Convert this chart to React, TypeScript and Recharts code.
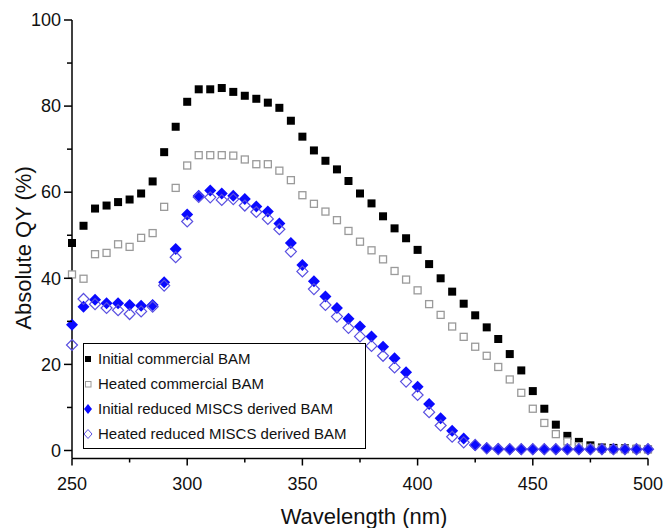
import React from 'react'
import { ScatterChart, Scatter, XAxis, YAxis, Label } from 'recharts'

// wavelength (nm), one point every 5 nm
const wavelengths = [
  250, 255, 260, 265, 270, 275, 280, 285, 290, 295,
  300, 305, 310, 315, 320, 325, 330, 335, 340, 345,
  350, 355, 360, 365, 370, 375, 380, 385, 390, 395,
  400, 405, 410, 415, 420, 425, 430, 435, 440, 445,
  450, 455, 460, 465, 470, 475, 480, 485, 490, 495, 500
]

const initialCommercial = [
  48.2, 52.2, 56.2, 56.9, 57.7, 58.3, 59.7, 62.5, 69.3, 75.2,
  81.0, 83.9, 83.9, 84.2, 83.3, 82.4, 81.7, 80.8, 79.6, 76.6,
  72.9, 69.7, 67.3, 65.3, 62.6, 59.7, 57.4, 54.4, 51.6, 49.3,
  46.6, 43.3, 40.0, 36.9, 34.1, 31.4, 28.6, 25.9, 22.4, 18.6,
  13.8, 9.7, 6.0, 3.4, 2.0, 1.2, 0.7, 0.6, 0.5, 0.4, 0.3
]

const heatedCommercial = [
  40.9, 39.9, 45.6, 45.9, 47.9, 47.3, 49.4, 50.5, 56.6, 61.0,
  66.2, 68.6, 68.6, 68.6, 68.5, 67.6, 66.5, 66.5, 65.0, 62.8,
  59.3, 57.3, 55.5, 53.5, 51.0, 48.5, 46.5, 44.4, 41.7, 39.7,
  37.2, 34.0, 31.5, 28.8, 26.4, 24.1, 22.0, 19.4, 16.5, 13.4,
  9.7, 6.4, 3.8, 2.1, 1.0, 0.6, 0.4, 0.3, 0.3, 0.3, 0.3
]

const initialReduced = [
  29.2, 33.4, 35.0, 34.2, 34.2, 33.8, 33.6, 33.8, 39.1, 46.8,
  54.8, 59.2, 60.4, 59.7, 59.2, 58.4, 56.7, 55.5, 52.7, 48.2,
  43.1, 39.3, 35.8, 33.1, 30.6, 28.8, 26.5, 24.1, 21.4, 18.2,
  14.8, 10.8, 7.5, 4.6, 2.8, 1.2, 0.6, 0.4, 0.3, 0.3,
  0.3, 0.3, 0.3, 0.3, 0.3, 0.3, 0.3, 0.3, 0.3, 0.3, 0.3
]

const heatedReduced = [
  24.5, 35.2, 34.0, 33.1, 32.6, 31.7, 32.3, 33.4, 38.3, 44.9,
  53.2, 58.9, 58.8, 58.2, 58.4, 56.9, 55.4, 53.8, 51.4, 46.2,
  41.6, 37.5, 33.8, 31.1, 28.5, 26.5, 24.3, 22.0, 19.3, 16.0,
  12.9, 8.9, 5.8, 3.2, 1.9, 1.3, 0.5, 0.3, 0.3, 0.3,
  0.3, 0.3, 0.3, 0.3, 0.3, 0.3, 0.3, 0.3, 0.3, 0.3, 0.3
]

const xTicks = [250, 275, 300, 325, 350, 375, 400, 425, 450, 475, 500]
const yTicks = [0, 10, 20, 30, 40, 50, 60, 70, 80, 90, 100]

const FONT = '"Liberation Sans", Arial, sans-serif'
const BLUE = '#0a0aff'
const VIOLET = '#5a50e0'
const GREY = '#9a9a9a'

const toPoints = (values: number[]) => wavelengths.map((x, i) => ({ x, y: values[i] }))

const FilledSquare = (p: any) => (
  <rect x={p.cx - 4} y={p.cy - 4} width={8} height={8} fill="#000" />
)
const OpenSquare = (p: any) => (
  <rect x={p.cx - 3.5} y={p.cy - 3.5} width={7} height={7} fill="#fff" stroke={GREY} strokeWidth={1.3} />
)
const FilledDiamond = (p: any) => (
  <path d={`M${p.cx},${p.cy - 6} L${p.cx + 6},${p.cy} L${p.cx},${p.cy + 6} L${p.cx - 6},${p.cy} Z`} fill={BLUE} />
)
const OpenDiamond = (p: any) => (
  <path
    d={`M${p.cx},${p.cy - 5.5} L${p.cx + 5.5},${p.cy} L${p.cx},${p.cy + 5.5} L${p.cx - 5.5},${p.cy} Z`}
    fill="none"
    stroke={VIOLET}
    strokeWidth={1.2}
  />
)

const YTick = ({ x, y, payload }: any) => {
  const major = payload.value % 20 === 0
  return (
    <g>
      <line x1={x} y1={y} x2={x - (major ? 8 : 5)} y2={y} stroke="#000" strokeWidth={1.5} />
      {major && (
        <text x={x - 11} y={y} dy="0.35em" textAnchor="end" fontSize={18} fill="#111" fontFamily={FONT}>
          {payload.value}
        </text>
      )}
    </g>
  )
}

const XTick = ({ x, y, payload }: any) => {
  const major = payload.value % 50 === 0
  return (
    <g>
      <line x1={x} y1={y} x2={x} y2={y + (major ? 7 : 4)} stroke="#000" strokeWidth={1.5} />
      {major && (
        <text x={x} y={y + 31} textAnchor="middle" fontSize={18} fill="#111" fontFamily={FONT}>
          {payload.value}
        </text>
      )}
    </g>
  )
}

const legendItems = [
  { label: 'Initial commercial BAM', icon: <rect x={2} y={4} width={6} height={6} fill="#000" /> },
  { label: 'Heated commercial BAM', icon: <rect x={2.5} y={4.5} width={5.5} height={5.5} fill="#fff" stroke={GREY} strokeWidth={1} /> },
  { label: 'Initial reduced MISCS derived BAM', icon: <path d="M5,2 L9,7 L5,12 L1,7 Z" fill={BLUE} /> },
  { label: 'Heated reduced MISCS derived BAM', icon: <path d="M5,2.5 L9,7 L5,11.5 L1,7 Z" fill="none" stroke={VIOLET} strokeWidth={1} /> }
]

export default function App() {
  return (
    <div style={{ position: 'absolute', left: 0, top: 0, width: 664, height: 528, background: '#fff', fontFamily: FONT }}>
      <ScatterChart width={664} height={528} margin={{ top: 20, right: 16, bottom: 19.5, left: 12 }}>
        <XAxis
          type="number"
          dataKey="x"
          domain={[250, 500]}
          ticks={xTicks}
          interval={0}
          height={50}
          tickSize={0}
          tickMargin={0}
          tick={<XTick />}
          axisLine={{ stroke: '#000', strokeWidth: 1.5 }}
        >
          <Label
            content={() => (
              <text x={364} y={524} textAnchor="middle" fontSize={22} fill="#111" fontFamily={FONT}>
                Wavelength (nm)
              </text>
            )}
          />
        </XAxis>
        <YAxis
          type="number"
          dataKey="y"
          domain={[-1.86, 100]}
          ticks={yTicks}
          interval={0}
          width={60}
          tickSize={0}
          tickMargin={0}
          tick={<YTick />}
          axisLine={{ stroke: '#000', strokeWidth: 1.5 }}
        >
          <Label
            content={() => (
              <text
                x={23}
                y={248}
                transform="rotate(-90 23 248)"
                textAnchor="middle"
                dominantBaseline="central"
                fontSize={22}
                fill="#111"
                fontFamily={FONT}
              >
                Absolute QY (%)
              </text>
            )}
          />
        </YAxis>
        <Scatter data={toPoints(initialCommercial)} shape={FilledSquare} isAnimationActive={false} />
        <Scatter data={toPoints(heatedCommercial)} shape={OpenSquare} isAnimationActive={false} />
        <Scatter data={toPoints(initialReduced)} shape={FilledDiamond} isAnimationActive={false} />
        <Scatter data={toPoints(heatedReduced)} shape={OpenDiamond} isAnimationActive={false} />
      </ScatterChart>

      <div
        style={{
          position: 'absolute',
          left: 83,
          top: 343,
          width: 283,
          height: 106,
          boxSizing: 'border-box',
          border: '1.5px solid #000',
          background: '#fff',
          paddingTop: 2
        }}
      >
        {legendItems.map(item => (
          <div key={item.label} style={{ display: 'flex', alignItems: 'center', height: 25, fontSize: 15, color: '#111' }}>
            <svg width={14} height={14} style={{ marginLeft: -1, marginRight: 1 }}>
              {item.icon}
            </svg>
            <span>{item.label}</span>
          </div>
        ))}
      </div>
    </div>
  )
}
